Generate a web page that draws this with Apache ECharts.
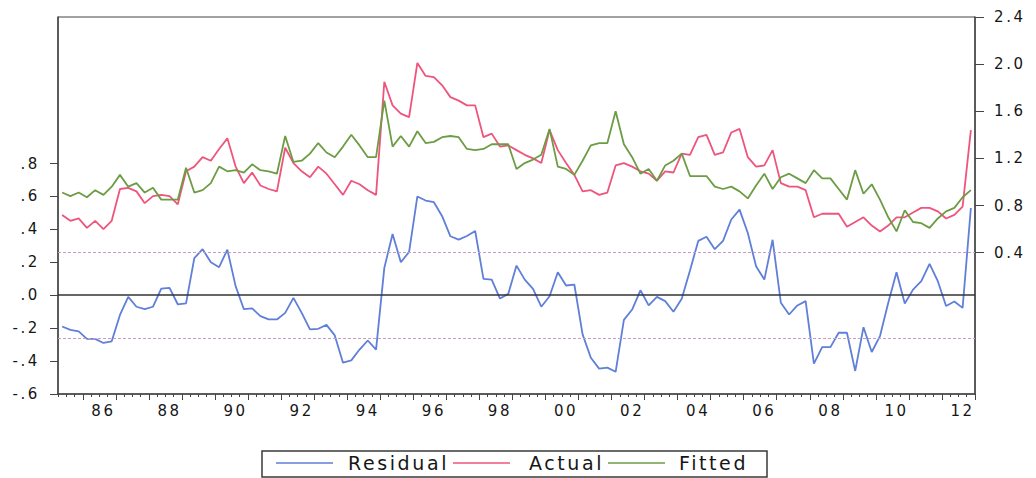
<!DOCTYPE html>
<html>
<head>
<meta charset="utf-8">
<script src="https://cdn.jsdelivr.net/npm/echarts@6/dist/echarts.min.js"></script>
<style>
  html, body { margin: 0; padding: 0; background: #ffffff; }
  #chart { width: 1036px; height: 478px; }
  /* wide, spaced lettering for all chart text */
  #chart text { letter-spacing: 2.6px; }
</style>
</head>
<body>
<div id="chart"></div>
<script>
// Quarterly sample 1985Q2 - 2012Q4
const quarters = [];
for (let y = 1985, q = 2; quarters.length < 111;) {
  quarters.push(y + 'Q' + q);
  q++;
  if (q > 4) { q = 1; y++; }
}

const actual = [
  0.72, 0.67, 0.69, 0.61, 0.67, 0.60, 0.67, 0.94, 0.95, 0.92,
  0.82, 0.88, 0.89, 0.88, 0.81, 1.09, 1.13, 1.21, 1.18, 1.28,
  1.37, 1.13, 0.99, 1.08, 0.97, 0.94, 0.92, 1.29, 1.16, 1.09,
  1.04, 1.13, 1.07, 0.98, 0.89, 1.01, 0.98, 0.93, 0.89, 1.85,
  1.65, 1.58, 1.55, 2.01, 1.90, 1.89, 1.82, 1.72, 1.69, 1.65,
  1.65, 1.38, 1.41, 1.30, 1.31, 1.27, 1.23, 1.20, 1.16, 1.44,
  1.27, 1.16, 1.06, 0.92, 0.93, 0.89, 0.91, 1.14, 1.16, 1.13,
  1.09, 1.07, 1.01, 1.09, 1.08, 1.24, 1.23, 1.38, 1.40, 1.23,
  1.25, 1.42, 1.45, 1.21, 1.13, 1.14, 1.27, 0.99, 0.96, 0.96,
  0.93, 0.70, 0.73, 0.73, 0.73, 0.62, 0.66, 0.70, 0.63, 0.58,
  0.63, 0.70, 0.70, 0.74, 0.78, 0.78, 0.75, 0.69, 0.72, 0.79,
  1.44
];

const fitted = [
  0.91, 0.88, 0.91, 0.87, 0.93, 0.89, 0.96, 1.06, 0.96, 0.99,
  0.91, 0.95, 0.85, 0.85, 0.85, 1.12, 0.91, 0.93, 0.99, 1.13,
  1.09, 1.10, 1.08, 1.15, 1.10, 1.09, 1.07, 1.39, 1.17, 1.18,
  1.24, 1.33, 1.25, 1.21, 1.30, 1.40, 1.31, 1.21, 1.21, 1.69,
  1.30, 1.39, 1.30, 1.43, 1.33, 1.34, 1.38, 1.39, 1.38, 1.28,
  1.27, 1.28, 1.32, 1.32, 1.32, 1.11, 1.16, 1.19, 1.23, 1.45,
  1.13, 1.11, 1.06, 1.18, 1.31, 1.33, 1.33, 1.60, 1.32, 1.21,
  1.07, 1.11, 1.01, 1.14, 1.18, 1.24, 1.05, 1.05, 1.05, 0.96,
  0.94, 0.96, 0.92, 0.86, 0.97, 1.07, 0.94, 1.04, 1.07, 1.03,
  0.99, 1.10, 1.03, 1.03, 0.94, 0.85, 1.10, 0.90, 0.98, 0.85,
  0.70, 0.58, 0.76, 0.66, 0.65, 0.61, 0.69, 0.75, 0.78, 0.87,
  0.93
];

const residual = [
  -0.19, -0.21, -0.22, -0.265, -0.265, -0.29, -0.28, -0.12, -0.01, -0.07,
  -0.085, -0.07, 0.04, 0.045, -0.055, -0.05, 0.225, 0.28, 0.20, 0.17,
  0.277, 0.055, -0.085, -0.08, -0.127, -0.147, -0.147, -0.107, -0.016, -0.107,
  -0.208, -0.204, -0.18, -0.244, -0.41, -0.396, -0.33, -0.275, -0.33, 0.166,
  0.372, 0.20, 0.263, 0.60, 0.575, 0.565, 0.48, 0.358, 0.338, 0.36,
  0.39, 0.099, 0.095, -0.02, 0.008, 0.18, 0.095, 0.039, -0.07, -0.006,
  0.14, 0.059, 0.065, -0.238, -0.38, -0.446, -0.44, -0.465, -0.15, -0.087,
  0.03, -0.062, -0.01, -0.036, -0.10, -0.022, 0.15, 0.33, 0.355, 0.28,
  0.33, 0.46, 0.52, 0.378, 0.176, 0.095, 0.337, -0.046, -0.117, -0.062,
  -0.036, -0.416, -0.315, -0.315, -0.228, -0.228, -0.46, -0.194, -0.345, -0.248,
  -0.046, 0.139, -0.05, 0.034, 0.085, 0.19, 0.085, -0.066, -0.038, -0.077,
  0.53
];

// Tick values shown on each vertical axis
const residualTicks = [-0.6, -0.4, -0.2, 0, 0.2, 0.4, 0.6, 0.8];
const levelTicks = [0.4, 0.8, 1.2, 1.6, 2.0, 2.4];
// One standard error band around zero residual
const seBand = 0.263;

const FONT = 'DejaVu Sans';
const AXIS = '#444444';
const TEXT = '#161616';
const COLORS = { residual: '#5f7fd8', actual: '#ee557d', fitted: '#6c9c44' };
const LINE_W = 1.8;

const chart = echarts.init(document.getElementById('chart'), null, { renderer: 'svg' });

const residualLabel = v => {
  if (Math.abs(v) < 1e-9) return '.0';
  return v.toFixed(1).replace(/^(-?)0\./, '$1.');
};

// year label sits mid-year, every second year
const isLabelQuarter = v => v.endsWith('Q3') && Number(v.slice(0, 4)) % 2 === 0;

const legendItem = (name, left, padLeft) => ({
  data: [name],
  left: left,
  top: 448.5,
  padding: 5,
  icon: 'rect',
  itemWidth: 57,
  itemHeight: 1.6,
  selectedMode: false,
  textStyle: { fontFamily: FONT, fontSize: 19, color: TEXT, padding: [0, 0, 0, padLeft] }
});

chart.setOption({
  animation: false,
  backgroundColor: '#ffffff',
  grid: {
    left: 58, right: 61, top: 17, height: 377,
    show: true, borderColor: AXIS, borderWidth: 1, backgroundColor: 'transparent'
  },
  xAxis: [
    {
      type: 'category', data: quarters, boundaryGap: true, position: 'bottom',
      axisLine: { onZero: false, lineStyle: { color: AXIS, width: 1.5 } },
      axisTick: { show: true, interval: 0, length: 3, lineStyle: { color: AXIS, width: 1 } },
      axisLabel: {
        interval: (i, v) => isLabelQuarter(v),
        formatter: v => v.slice(2, 4),
        margin: 9, fontFamily: FONT, fontSize: 15, color: TEXT
      },
      splitLine: { show: false }
    },
    {
      type: 'category', data: quarters, boundaryGap: true, position: 'bottom',
      axisLine: { show: false, onZero: false },
      axisTick: { show: true, interval: (i, v) => v.endsWith('Q1'), length: 6, lineStyle: { color: AXIS, width: 1 } },
      axisLabel: { show: false },
      splitLine: { show: false }
    }
  ],
  yAxis: [
    {
      type: 'value', position: 'left', min: -0.6, max: 1.69,
      axisLine: { show: true, lineStyle: { color: AXIS, width: 1.5 } },
      axisTick: { show: true, customValues: residualTicks, length: 8, lineStyle: { color: AXIS, width: 1 } },
      axisLabel: {
        customValues: residualTicks, formatter: residualLabel,
        margin: 18, fontFamily: FONT, fontSize: 15, color: TEXT
      },
      splitLine: { show: false }
    },
    {
      type: 'value', position: 'right', min: -0.8, max: 2.4,
      axisLine: { show: true, lineStyle: { color: AXIS, width: 1.5 } },
      axisTick: { show: true, customValues: levelTicks, length: 9, lineStyle: { color: AXIS, width: 1 } },
      axisLabel: {
        customValues: levelTicks, formatter: v => v.toFixed(1),
        margin: 19, fontFamily: FONT, fontSize: 15, color: TEXT
      },
      splitLine: { show: false }
    }
  ],
  legend: [
    legendItem('Residual', 271, 10),
    legendItem('Actual', 448, 14),
    legendItem('Fitted', 603, 9)
  ],
  graphic: [{
    type: 'rect', silent: true,
    shape: { x: 262, y: 451, width: 505, height: 26 },
    style: { fill: 'none', stroke: '#3a3a3a', lineWidth: 1.5 }
  }],
  series: [
    {
      name: 'Residual', type: 'line', data: residual,
      xAxisIndex: 0, yAxisIndex: 0,
      symbol: 'none', lineStyle: { color: COLORS.residual, width: LINE_W },
      itemStyle: { color: COLORS.residual },
      markLine: {
        silent: true, symbol: 'none', label: { show: false },
        data: [
          { yAxis: 0, lineStyle: { color: '#333333', width: 1.6, type: 'solid' } },
          { yAxis: seBand, lineStyle: { color: '#c99ac6', width: 1, type: [3, 2] } },
          { yAxis: -seBand, lineStyle: { color: '#c99ac6', width: 1, type: [3, 2] } }
        ]
      },
      z: 2
    },
    {
      name: 'Actual', type: 'line', data: actual,
      xAxisIndex: 0, yAxisIndex: 1,
      symbol: 'none', lineStyle: { color: COLORS.actual, width: LINE_W },
      itemStyle: { color: COLORS.actual }, z: 3
    },
    {
      name: 'Fitted', type: 'line', data: fitted,
      xAxisIndex: 0, yAxisIndex: 1,
      symbol: 'none', lineStyle: { color: COLORS.fitted, width: LINE_W },
      itemStyle: { color: COLORS.fitted }, z: 4
    }
  ]
});
</script>
</body>
</html>
